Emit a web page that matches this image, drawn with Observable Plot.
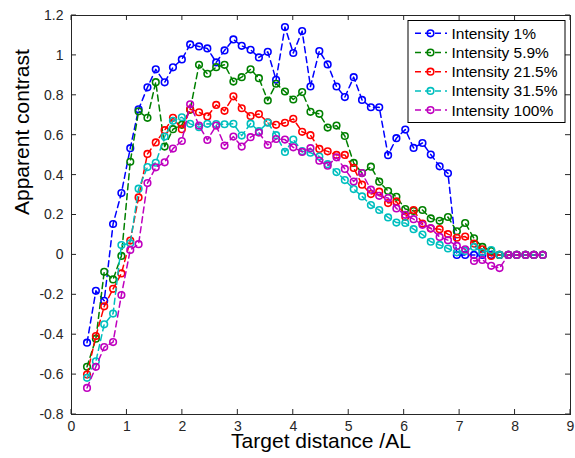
<!DOCTYPE html>
<html>
<head>
<meta charset="utf-8">
<script src="https://cdn.jsdelivr.net/npm/d3@7"></script>
<script src="https://cdn.jsdelivr.net/npm/@observablehq/plot@0.6"></script>
<style>
  html, body { margin: 0; padding: 0; background: #ffffff; }
  #chart { width: 575px; height: 458px; }
</style>
</head>
<body>
<div id="chart"></div>
<script>
// Target distance (AL) of each measurement
const distance = [0.28, 0.44, 0.59, 0.75, 0.90, 1.06, 1.21, 1.37, 1.52, 1.68,
  1.83, 1.99, 2.14, 2.30, 2.45, 2.61, 2.76, 2.92, 3.07, 3.23,
  3.38, 3.54, 3.69, 3.85, 4.00, 4.16, 4.31, 4.47, 4.62, 4.78,
  4.93, 5.09, 5.24, 5.40, 5.55, 5.71, 5.86, 6.02, 6.17, 6.33,
  6.48, 6.64, 6.79, 6.95, 7.10, 7.26, 7.41, 7.57, 7.72, 7.88,
  8.03, 8.19, 8.34, 8.50];

// Apparent contrast for each stimulus intensity
const intensity1 = [-0.44, -0.18, -0.23, 0.155, 0.31, 0.535, 0.73, 0.84, 0.93, 0.865,
  0.94, 0.98, 1.055, 1.045, 1.035, 0.965, 1.025, 1.08, 1.048, 1.028,
  0.99, 1.018, 0.878, 1.142, 1.012, 1.122, 0.844, 1.022, 0.955, 0.844,
  0.791, 0.891, 0.777, 0.74, 0.74, 0.50, 0.585, 0.628, 0.536, 0.561,
  0.503, 0.444, 0.409, 0, 0, 0, 0, 0, 0, 0,
  0, 0, 0, 0];
const intensity5_9 = [-0.561, -0.42, -0.085, -0.123, -0.005, 0.467, 0.72, 0.687, 0.866, 0.543,
  0.63, 0.652, 0.727, 0.953, 0.908, 0.941, 0.953, 0.869, 0.891, 0.93,
  0.886, 0.774, 0.858, 0.819, 0.779, 0.816, 0.717, 0.707, 0.638, 0.648,
  0.596, 0.461, 0.41, 0.442, 0.367, 0.32, 0.291, 0.23, 0.22, 0.225,
  0.183, 0.171, 0.19, 0.118, 0.16, 0.083, 0.04, 0.02, 0, 0,
  0, 0, 0, 0];
const intensity21_5 = [-0.60, -0.407, -0.258, -0.17, -0.093, 0.072, 0.288, 0.506, 0.564, 0.625,
  0.687, 0.63, 0.73, 0.715, 0.694, 0.752, 0.722, 0.795, 0.735, 0.696,
  0.706, 0.665, 0.652, 0.662, 0.682, 0.617, 0.60, 0.531, 0.519, 0.501,
  0.501, 0.436, 0.352, 0.305, 0.317, 0.26, 0.268, 0.191, 0.225, 0.157,
  0.132, 0.129, 0.104, 0.086, 0.092, 0.057, 0.028, -0.005, 0, 0,
  0, 0, 0, 0];
const intensity31_5 = [-0.616, -0.533, -0.348, -0.294, 0.049, 0.058, 0.332, 0.44, 0.462, 0.593,
  0.672, 0.69, 0.657, 0.64, 0.657, 0.656, 0.655, 0.657, 0.598, 0.658,
  0.62, 0.663, 0.60, 0.516, 0.578, 0.52, 0.512, 0.493, 0.455, 0.415,
  0.375, 0.33, 0.293, 0.25, 0.225, 0.188, 0.162, 0.16, 0.129, 0.102,
  0.066, 0.05, 0.032, 0.013, 0.02, 0.04, 0.013, 0.024, 0, 0,
  0, 0, 0, 0];
const intensity100 = [-0.667, -0.561, -0.462, -0.437, -0.201, 0.025, 0.054, 0.36, 0.439, 0.464,
  0.533, 0.571, 0.755, 0.648, 0.576, 0.648, 0.548, 0.593, 0.543, 0.59,
  0.613, 0.551, 0.581, 0.578, 0.539, 0.516, 0.535, 0.472, 0.447, 0.489,
  0.431, 0.368, 0.41, 0.327, 0.296, 0.285, 0.233, 0.201, 0.179, 0.151,
  0.134, 0.09, 0.074, 0.045, 0.028, -0.03, -0.025, -0.055, -0.066, 0,
  0, 0, 0, 0];

const seriesNames = ["Intensity 1%", "Intensity 5.9%", "Intensity 21.5%", "Intensity 31.5%", "Intensity 100%"];
const seriesValues = [intensity1, intensity5_9, intensity21_5, intensity31_5, intensity100];
const seriesColors = ["#0000ff", "#008000", "#ff0000", "#00bfbf", "#bf00bf"];

const xTicks = [0, 1, 2, 3, 4, 5, 6, 7, 8, 9];
const yTicks = [-0.8, -0.6, -0.4, -0.2, 0, 0.2, 0.4, 0.6, 0.8, 1, 1.2];

// Long-format table: one row per measurement
const rows = [];
seriesValues.forEach((values, i) => {
  values.forEach((v, k) => rows.push({ series: seriesNames[i], distance: distance[k], contrast: v }));
});

const fmt = d => String(Math.round(d * 10) / 10);
const font = "'Liberation Sans', Arial, Helvetica, sans-serif";
const axisColor = "#262626";

const dataMarks = [];
seriesNames.forEach((name, i) => {
  const d = rows.filter(r => r.series === name);
  dataMarks.push(Plot.line(d, { x: "distance", y: "contrast", stroke: seriesColors[i], strokeWidth: 1.5, strokeDasharray: "6,4" }));
  dataMarks.push(Plot.dot(d, { x: "distance", y: "contrast", r: 3.3, stroke: seriesColors[i], strokeWidth: 1.6, fill: "none" }));
});

const chart = Plot.plot({
  width: 575,
  height: 458,
  marginLeft: 71,
  marginRight: 5,
  marginTop: 15,
  marginBottom: 44,
  style: { fontFamily: font, background: "#ffffff", color: axisColor, overflow: "visible" },
  x: { domain: [0, 9] },
  y: { domain: [-0.8, 1.2] },
  marks: [
    // tick labels
    Plot.axisX(xTicks, { anchor: "bottom", tickSize: 0, tickPadding: 7, tickFormat: fmt, fontSize: 14, label: null }),
    Plot.axisY(yTicks, { anchor: "left", tickSize: 0, tickPadding: 8, tickFormat: fmt, fontSize: 14, label: null }),
    ...dataMarks,
    Plot.frame({ stroke: axisColor, strokeWidth: 1 }),
    Plot.text(["Target distance /AL"], { frameAnchor: "bottom", dy: 33, fontSize: 21, fill: "#000" }),
    Plot.text(["Apparent contrast"], { frameAnchor: "left", dx: -49, rotate: -90, fontSize: 21, fill: "#000" })
  ]
});

document.getElementById("chart").appendChild(chart);

const svg = d3.select(chart);
const xScale = chart.scale("x");
const yScale = chart.scale("y");
const [plotLeft, plotRight] = xScale.range;
const [plotBottom, plotTop] = yScale.range;

// Inward tick marks on all four sides of the box
const tickLen = 5;
const tickG = svg.append("g").attr("stroke", axisColor).attr("stroke-width", 1);
xTicks.forEach(t => {
  const px = xScale.apply(t);
  tickG.append("line").attr("x1", px).attr("x2", px).attr("y1", plotBottom).attr("y2", plotBottom - tickLen);
  tickG.append("line").attr("x1", px).attr("x2", px).attr("y1", plotTop).attr("y2", plotTop + tickLen);
});
yTicks.forEach(t => {
  const py = yScale.apply(t);
  tickG.append("line").attr("x1", plotLeft).attr("x2", plotLeft + tickLen).attr("y1", py).attr("y2", py);
  tickG.append("line").attr("x1", plotRight).attr("x2", plotRight - tickLen).attr("y1", py).attr("y2", py);
});

// Legend box in the upper-right corner
const legend = svg.append("g")
  .attr("font-family", font).attr("font-size", 15.5).attr("text-anchor", "start");
legend.append("rect")
  .attr("x", 408).attr("y", 20.5).attr("width", 157).attr("height", 102)
  .attr("fill", "#ffffff").attr("stroke", "#000").attr("stroke-width", 1);
seriesNames.forEach((name, i) => {
  const y = 33.3 + i * 19.2;
  legend.append("line")
    .attr("x1", 415).attr("x2", 447).attr("y1", y).attr("y2", y)
    .attr("stroke", seriesColors[i]).attr("stroke-width", 1.5).attr("stroke-dasharray", "6,4");
  legend.append("circle")
    .attr("cx", 430.5).attr("cy", y).attr("r", 3.3)
    .attr("fill", "none").attr("stroke", seriesColors[i]).attr("stroke-width", 1.6);
  legend.append("text")
    .attr("x", 451.5).attr("y", y).attr("dy", "0.35em").attr("fill", "#000")
    .attr("text-anchor", "start")
    .text(name);
});
</script>
</body>
</html>
